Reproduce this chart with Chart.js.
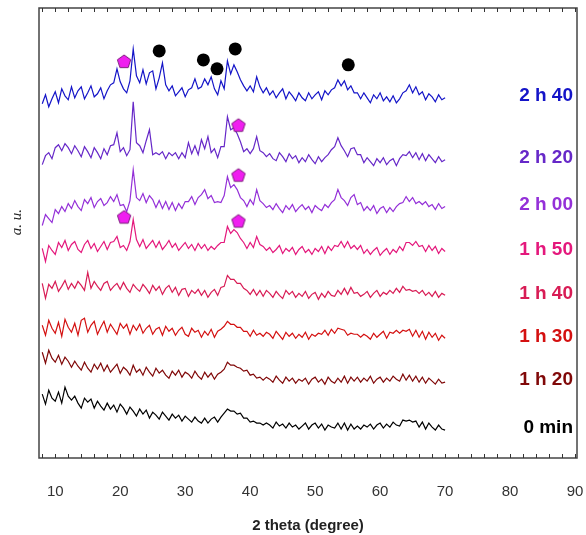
<!DOCTYPE html>
<html>
<head>
<meta charset="utf-8">
<script src="https://cdn.jsdelivr.net/npm/chart.js@4.4.0/dist/chart.umd.min.js"></script>
<style>
  html, body { margin: 0; padding: 0; background: #fff; }
  #wrap { width: 586px; height: 535px; }
</style>
</head>
<body>
<div id="wrap"><canvas id="xrdChart" width="586" height="535"></canvas></div>
<script>
// 2 theta positions (degree)
const twoTheta = [
  8, 8.5, 9, 9.5, 10, 10.5, 11, 11.5, 12, 12.5,
  13, 13.5, 14, 14.5, 15, 15.5, 16, 16.5, 17, 17.5,
  18, 18.5, 19, 19.5, 20, 20.5, 21, 21.5, 22, 22.5,
  23, 23.5, 24, 24.5, 25, 25.5, 26, 26.5, 27, 27.5,
  28, 28.5, 29, 29.5, 30, 30.5, 31, 31.5, 32, 32.5,
  33, 33.5, 34, 34.5, 35, 35.5, 36, 36.5, 37, 37.5,
  38, 38.5, 39, 39.5, 40, 40.5, 41, 41.5, 42, 42.5,
  43, 43.5, 44, 44.5, 45, 45.5, 46, 46.5, 47, 47.5,
  48, 48.5, 49, 49.5, 50, 50.5, 51, 51.5, 52, 52.5,
  53, 53.5, 54, 54.5, 55, 55.5, 56, 56.5, 57, 57.5,
  58, 58.5, 59, 59.5, 60, 60.5, 61, 61.5, 62, 62.5,
  63, 63.5, 64, 64.5, 65, 65.5, 66, 66.5, 67, 67.5,
  68, 68.5, 69, 69.5, 70
];
const xTicks = [10, 20, 30, 40, 50, 60, 70, 80, 90];

// intensities (a.u., already stacked)
const s2h40 = [
  355,364,352,360,367,356,370,363,359,372,
  361,368,372,360,366,373,362,365,371,360,
  368,374,376,390,377,370,366,378,410,383,
  376,389,375,386,388,370,381,396,374,368,
  373,363,367,371,362,369,371,380,370,372,
  380,374,382,370,364,378,370,398,385,394,
  387,379,373,368,373,367,382,372,366,371,
  364,368,361,366,370,360,367,363,358,366,
  361,358,366,360,364,367,359,368,364,369,
  371,379,373,378,369,373,366,366,360,366,
  361,356,364,360,366,358,362,357,363,356,
  360,366,368,374,366,372,364,367,359,365,
  362,357,364,359,361
];
const s2h20 = [
  294,303,306,300,311,314,308,315,311,305,
  313,308,302,312,307,301,311,306,300,310,
  304,313,314,326,307,311,303,309,357,316,
  313,306,318,329,304,306,304,307,300,306,
  303,306,300,306,301,316,305,313,304,319,
  310,322,306,310,301,312,312,342,329,331,
  325,317,307,310,305,310,322,308,306,302,
  305,300,298,306,302,297,305,300,303,296,
  301,297,304,299,295,302,297,301,304,309,
  312,321,313,308,302,310,311,304,304,296,
  301,297,293,300,296,301,294,298,300,293,
  300,304,303,307,301,306,299,305,298,304,
  300,296,302,297,299
];
const s2h00 = [
  233,244,240,236,249,245,252,247,255,250,
  258,252,248,259,255,261,251,257,260,253,
  256,262,257,264,253,254,247,258,289,261,
  258,265,256,263,259,251,258,250,257,249,
  256,248,255,250,257,257,262,254,261,264,
  269,260,263,256,257,256,263,282,271,274,
  269,261,258,252,259,254,269,258,255,251,
  253,249,255,250,246,253,249,254,247,251,
  254,249,252,246,253,250,248,254,251,256,
  259,269,261,258,253,261,264,254,256,248,
  252,248,253,245,250,252,246,251,247,252,
  255,256,262,257,261,255,257,254,257,252,
  254,249,255,250,252
];
const s1h50 = [
  210,197,213,208,204,216,211,218,208,214,
  217,209,206,214,218,210,215,207,212,217,
  209,216,217,222,211,213,208,217,239,219,
  212,219,210,214,218,211,217,209,213,218,
  211,215,208,212,216,210,214,208,215,210,
  214,208,212,209,213,216,216,232,225,229,
  226,220,216,210,216,211,222,214,212,208,
  211,206,209,213,205,210,207,211,204,209,
  212,206,209,204,210,207,212,205,212,208,
  213,212,217,211,217,210,213,209,213,205,
  209,204,208,211,203,207,210,204,209,206,
  212,208,216,216,213,217,212,213,207,213,
  208,212,205,210,207
];
const s1h40 = [
  175,160,174,170,177,167,172,178,169,175,
  170,177,173,168,186,170,177,172,168,175,
  177,168,172,175,169,176,170,166,174,170,
  167,174,170,165,173,168,172,164,170,173,
  166,171,163,169,170,162,168,165,169,163,
  168,161,166,169,163,171,172,183,179,179,
  175,175,170,168,164,169,163,168,162,168,
  165,161,167,163,160,168,164,167,161,165,
  162,167,160,164,166,159,165,161,167,163,
  162,168,164,170,164,171,165,166,162,164,
  167,161,165,168,162,166,164,168,165,170,
  166,172,168,169,167,168,165,168,163,166,
  162,167,161,165,163
];
const s1h30 = [
  133,123,138,130,125,136,122,139,131,126,
  135,123,138,140,126,133,137,124,131,137,
  126,134,129,124,135,130,134,124,133,128,
  134,125,130,133,124,129,131,123,132,127,
  130,123,128,131,124,122,130,126,128,121,
  127,123,129,121,127,129,132,137,134,134,
  131,131,127,127,122,128,123,125,122,126,
  124,120,127,123,119,126,122,125,120,124,
  121,126,119,124,122,125,124,128,123,129,
  125,130,129,128,123,125,124,124,121,124,
  122,119,125,121,124,127,120,126,125,128,
  125,128,127,129,122,128,121,127,119,126,
  121,125,118,123,120
];
const s1h20 = [
  106,95,108,100,96,103,94,101,97,91,
  97,92,88,96,90,86,94,89,95,87,
  93,86,90,94,85,91,88,83,93,86,
  89,83,91,86,82,90,85,88,83,80,
  87,83,88,81,86,84,80,87,82,79,
  86,81,85,79,84,86,89,96,93,93,
  91,90,87,88,83,84,80,81,78,81,
  79,76,82,78,75,81,77,80,75,79,
  77,80,74,79,81,76,79,74,81,77,
  75,80,76,82,75,81,77,81,76,80,
  77,82,75,79,81,76,80,77,82,79,
  77,84,78,83,77,82,76,81,75,80,
  77,74,79,75,76
];
const s0min = [
  64,54,68,60,57,66,55,71,62,58,
  62,55,50,60,56,59,50,57,52,48,
  55,49,53,46,54,50,44,51,47,42,
  49,44,48,40,46,43,39,46,42,38,
  44,40,43,37,42,39,36,41,37,35,
  40,35,39,41,36,41,45,49,47,47,
  44,45,40,40,36,37,35,35,33,35,
  33,30,36,32,34,30,35,31,33,29,
  32,35,29,33,35,30,34,28,33,31,
  30,35,29,35,28,34,29,32,29,33,
  31,34,29,33,35,30,34,31,36,33,
  32,38,37,38,36,37,31,36,29,35,
  31,28,33,29,28
];

const sampleNames = ['2 h 40', '2 h 20', '2 h 00', '1 h 50', '1 h 40', '1 h 30', '1 h 20', '0 min'];
const sampleSeries = [s2h40, s2h20, s2h00, s1h50, s1h40, s1h30, s1h20, s0min];
const sampleColors = ['#1414c8', '#6628c8', '#9430d8', '#e4187c', '#d81c55', '#d41010', '#800808', '#000000'];

// phase markers (2 theta, a.u.)
const pentagonTheta = [20.6, 38.2, 38.2, 20.6, 38.2];
const pentagonY = [397, 333, 283, 241, 237];
const circleTheta = [26.0, 32.8, 34.9, 37.7, 55.1];
const circleY = [408, 399, 390, 410, 394];

function pentagonImage(r, fill, stroke) {
    const c = document.createElement('canvas');
    c.width = c.height = 2 * r + 4;
    const g = c.getContext('2d');
    g.beginPath();
    for (let k = 0; k < 5; k++) {
        const a = -Math.PI / 2 + k * 2 * Math.PI / 5;
        const px = r + 2 + r * Math.cos(a), py = r + 2 + r * Math.sin(a);
        if (k === 0) g.moveTo(px, py); else g.lineTo(px, py);
    }
    g.closePath();
    g.fillStyle = fill;
    g.fill();
    g.strokeStyle = stroke;
    g.lineWidth = 1;
    g.stroke();
    return c;
}

// frame, inner tick marks, sample names and y title
const framePlugin = {
    id: 'framePlugin',
    afterDraw(chart) {
        const ctx = chart.ctx;
        const area = chart.chartArea;
        const xs = chart.scales.x;
        const ys = chart.scales.y;
        ctx.save();
        ctx.strokeStyle = '#444';
        ctx.lineWidth = 1.5;
        ctx.strokeRect(area.left, area.top, area.right - area.left, area.bottom - area.top);
        ctx.lineWidth = 1;
        ctx.strokeStyle = '#333';
        for (let v = 8; v <= 90; v += 2) {
            const px = Math.round(xs.getPixelForValue(v)) + 0.5;
            if (px <= area.left + 1 || px >= area.right - 1) continue;
            ctx.beginPath();
            ctx.moveTo(px, area.bottom);
            ctx.lineTo(px, area.bottom - 4);
            ctx.moveTo(px, area.top);
            ctx.lineTo(px, area.top + 4);
            ctx.stroke();
        }
        ctx.font = 'bold 19px "Liberation Sans", Arial, sans-serif';
        ctx.textAlign = 'right';
        ctx.textBaseline = 'middle';
        sampleNames.forEach((name, i) => {
            const last = sampleSeries[i][sampleSeries[i].length - 1];
            ctx.fillStyle = sampleColors[i];
            ctx.fillText(name, area.right - 4, ys.getPixelForValue(last) - 2);
        });
        ctx.translate(17, 222);
        ctx.rotate(-Math.PI / 2);
        ctx.textAlign = 'center';
        ctx.fillStyle = '#222';
        ctx.font = 'italic 15px "Liberation Serif", "Times New Roman", serif';
        ctx.fillText('a. u.', 0, 0);
        ctx.restore();
    }
};

try {
    const datasets = [
        {
            label: 'pentagon',
            data: pentagonTheta.map((t, i) => ({ x: t, y: pentagonY[i] })),
            showLine: false,
            pointStyle: pentagonImage(7, '#f01ef0', '#7a1a7a'),
            pointRadius: 7,
            borderWidth: 0
        },
        {
            label: 'circle',
            data: circleTheta.map((t, i) => ({ x: t, y: circleY[i] })),
            showLine: false,
            pointStyle: 'circle',
            pointRadius: 6.5,
            backgroundColor: '#000',
            borderColor: '#000',
            borderWidth: 0
        }
    ];
    sampleSeries.forEach((series, i) => {
        datasets.push({
            label: sampleNames[i],
            data: twoTheta.map((t, k) => ({ x: t, y: series[k] })),
            borderColor: sampleColors[i],
            borderWidth: 1.2,
            pointRadius: 0,
            tension: 0,
            fill: false
        });
    });

    new Chart(document.getElementById('xrdChart'), {
        type: 'line',
        data: { datasets },
        options: {
            responsive: false,
            animation: false,
            layout: { padding: { left: 39, right: 9, top: 8, bottom: 0 } },
            plugins: { legend: { display: false }, tooltip: { enabled: false } },
            scales: {
                x: {
                    type: 'linear',
                    min: 7.5,
                    max: 90.3,
                    afterBuildTicks: (scale) => { scale.ticks = xTicks.map(v => ({ value: v })); },
                    afterFit: (scale) => {
                        scale.height = 77;
                        scale.paddingLeft = 0;
                        scale.paddingRight = 0;
                    },
                    grid: { display: false, drawTicks: false },
                    border: { display: false },
                    ticks: {
                        color: '#333',
                        padding: 25,
                        maxRotation: 0,
                        autoSkip: false,
                        font: { family: '"Liberation Sans", Arial, sans-serif', size: 15 }
                    },
                    title: {
                        display: true,
                        text: '2 theta (degree)',
                        color: '#222',
                        padding: { top: 0, bottom: 0 },
                        font: { family: '"Liberation Sans", Arial, sans-serif', size: 15, weight: 'bold' }
                    }
                },
                y: {
                    display: false,
                    min: 0,
                    max: 451
                }
            }
        },
        plugins: [framePlugin]
    });
} catch (e) {
    console.error('Failed to render XRD chart', e);
}
</script>
</body>
</html>
